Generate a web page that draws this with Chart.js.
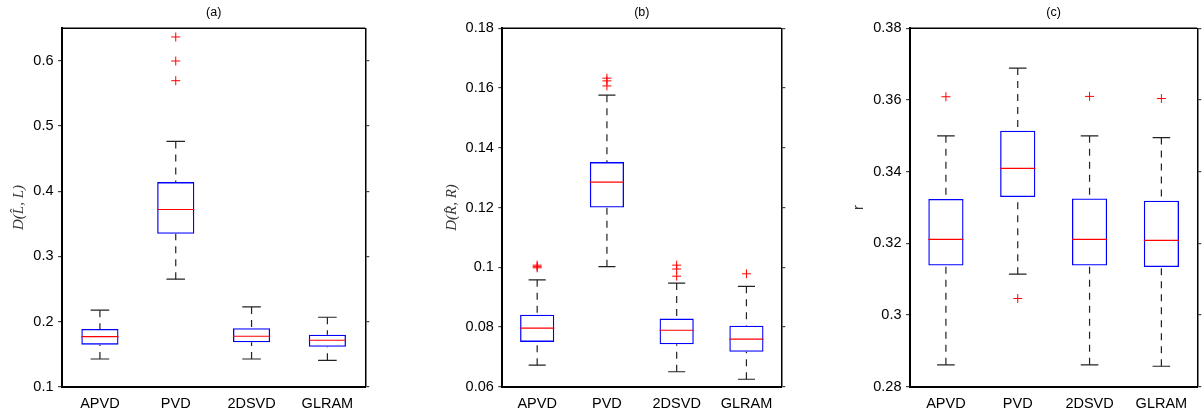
<!DOCTYPE html>
<html>
<head>
    <title>Box plots (a) (b) (c)</title>
    <style type="text/css">
        body { margin: 0; background: #fff; }
        .panel { position: absolute; top: 0; }
    </style>
    <script type="text/javascript" src="https://cdn.jsdelivr.net/npm/chart.js@4.4.1/dist/chart.umd.min.js"></script>
</head>
<body>
    <canvas id="chartA" class="panel" width="400" height="413" style="left:0px"></canvas>
    <canvas id="chartB" class="panel" width="400" height="413" style="left:400px"></canvas>
    <canvas id="chartC" class="panel" width="404" height="413" style="left:800px"></canvas>

    <script>
        var methods = ["APVD", "PVD", "2DSVD", "GLRAM"];

        // (a) D(L^, L)
        var aLow  = [0.1425, 0.2650, 0.1425, 0.1405];
        var aQ1   = [0.1645, 0.3346, 0.1682, 0.1614];
        var aMed  = [0.1768, 0.3719, 0.1774, 0.1713];
        var aQ3   = [0.1886, 0.4140, 0.1897, 0.1799];
        var aHigh = [0.2174, 0.4764, 0.2224, 0.2066];
        var aOut  = [[], [0.5696, 0.5998, 0.6367], [], []];

        // (b) D(R^, R)
        var bLow  = [0.0672, 0.1002, 0.0650, 0.0625];
        var bQ1   = [0.0750, 0.1200, 0.0742, 0.0717];
        var bMed  = [0.0796, 0.1285, 0.0789, 0.0759];
        var bQ3   = [0.0841, 0.1352, 0.0828, 0.0804];
        var bHigh = [0.0958, 0.1576, 0.0947, 0.0936];
        var bOut  = [[0.0998, 0.1002, 0.1007], [0.1607, 0.1624, 0.1633], [0.0970, 0.0994, 0.1007], [0.0978]];

        // (c) r
        var cLow  = [0.2861, 0.3114, 0.2861, 0.2857];
        var cQ1   = [0.3138, 0.3329, 0.3138, 0.3134];
        var cMed  = [0.3211, 0.3409, 0.3211, 0.3208];
        var cQ3   = [0.3324, 0.3514, 0.3325, 0.3319];
        var cHigh = [0.3500, 0.3689, 0.3500, 0.3495];
        var cOut  = [[0.3609], [0.3046], [0.3610], [0.3604]];

        var sans = "'Liberation Sans', Arial, Helvetica, sans-serif";

        // whiskers, caps and medians drawn through the chart scales
        var makeBoxPlugin = function (low, med, high) {
            return {
                id: "boxPlot",
                beforeDatasetsDraw: function (chart) {
                    var ctx = chart.ctx;
                    var y = chart.scales.y;
                    var bars = chart.getDatasetMeta(0).data;
                    ctx.save();
                    ctx.strokeStyle = "#222";
                    ctx.lineWidth = 1.2;
                    for (var i = 0; i < bars.length; i++) {
                        var cx = bars[i].x;
                        var cap = bars[i].width / 4;
                        var top = Math.min(bars[i].y, bars[i].base);
                        var bot = Math.max(bars[i].y, bars[i].base);
                        var yHi = y.getPixelForValue(high[i]);
                        var yLo = y.getPixelForValue(low[i]);
                        ctx.setLineDash([7, 6]);
                        ctx.beginPath();
                        ctx.moveTo(cx, yHi); ctx.lineTo(cx, top);
                        ctx.moveTo(cx, yLo); ctx.lineTo(cx, bot);
                        ctx.stroke();
                        ctx.setLineDash([]);
                        ctx.beginPath();
                        ctx.moveTo(cx - cap, yHi); ctx.lineTo(cx + cap, yHi);
                        ctx.moveTo(cx - cap, yLo); ctx.lineTo(cx + cap, yLo);
                        ctx.stroke();
                    }
                    ctx.restore();
                },
                afterDatasetsDraw: function (chart) {
                    var ctx = chart.ctx;
                    var y = chart.scales.y;
                    var bars = chart.getDatasetMeta(0).data;
                    var area = chart.chartArea;
                    ctx.save();
                    ctx.strokeStyle = "#ff0000";
                    ctx.lineWidth = 1.2;
                    for (var i = 0; i < bars.length; i++) {
                        var ym = y.getPixelForValue(med[i]);
                        ctx.beginPath();
                        ctx.moveTo(bars[i].x - bars[i].width / 2, ym);
                        ctx.lineTo(bars[i].x + bars[i].width / 2, ym);
                        ctx.stroke();
                    }
                    // top frame line
                    ctx.strokeStyle = "#000";
                    ctx.lineWidth = 1.5;
                    ctx.beginPath();
                    ctx.moveTo(area.left, area.top);
                    ctx.lineTo(area.right, area.top);
                    ctx.stroke();
                    ctx.restore();
                }
            };
        };

        var fmt = function (v) {
            return String(+v.toFixed(4));
        };

        var buildPanel = function (id, cfg) {
            var outliers = [];
            for (var i = 0; i < cfg.out.length; i++) {
                for (var j = 0; j < cfg.out[i].length; j++) {
                    outliers.push({ x: methods[i], y: cfg.out[i][j] });
                }
            }
            var yTicks = {
                min: cfg.min,
                max: cfg.max,
                ticks: {
                    stepSize: cfg.step,
                    includeBounds: false,
                    color: "#000",
                    padding: 4.5,
                    font: { family: sans, size: 14.5 },
                    callback: fmt
                }
            };
            return new Chart(document.getElementById(id), {
                type: "bar",
                data: {
                    labels: methods,
                    datasets: [
                        {
                            label: "box",
                            data: cfg.q1.map(function (v, k) { return [v, cfg.q3[k]]; }),
                            backgroundColor: "rgba(255,255,255,0)",
                            borderColor: "#0000ff",
                            borderWidth: 1.3,
                            borderSkipped: false,
                            barPercentage: 0.49,
                            categoryPercentage: 1.0,
                            order: 2
                        },
                        {
                            type: "line",
                            label: "outliers",
                            data: outliers,
                            showLine: false,
                            pointStyle: "cross",
                            pointRadius: 4.5,
                            pointBorderColor: "#ff0000",
                            pointBorderWidth: 1,
                            order: 1
                        }
                    ]
                },
                options: {
                    responsive: false,
                    animation: false,
                    events: [],
                    layout: { padding: { left: 0, right: cfg.padRight, top: 0, bottom: 0 } },
                    plugins: {
                        legend: { display: false },
                        tooltip: { enabled: false },
                        title: {
                            display: true,
                            fullSize: false,
                            text: cfg.title,
                            color: "#000",
                            font: { family: sans, size: 12.5, weight: "normal" },
                            padding: { top: 5, bottom: 8.3 }
                        }
                    },
                    scales: {
                        x: {
                            grid: { display: false, drawTicks: false },
                            border: { display: true, color: "#000", width: 2 },
                            ticks: {
                                color: "#000",
                                padding: 9,
                                font: { family: sans, size: 14.5 }
                            },
                            afterFit: function (s) { s.height = 26.3; }
                        },
                        y: Object.assign({
                            position: "left",
                            grid: { display: true, drawOnChartArea: false, drawTicks: true, tickLength: 4, color: "#444", lineWidth: 1.2 },
                            border: { display: true, color: "#000", width: 2 },
                            title: {
                                display: true,
                                text: cfg.yTitle,
                                color: "#333",
                                font: cfg.yTitleFont,
                                padding: { top: cfg.yTitlePad, bottom: 0 }
                            },
                            afterFit: function (s) { s.width = cfg.yWidth; }
                        }, yTicks),
                        y2: Object.assign({}, yTicks, {
                            position: "right",
                            ticks: { display: false, stepSize: cfg.step, includeBounds: false },
                            grid: { display: true, drawOnChartArea: false, drawTicks: true, tickLength: 4, color: "#444", lineWidth: 1.2 },
                            border: { display: true, color: "#000", width: 1.5 },
                            afterFit: function (s) { s.width = 4; }
                        })
                    }
                },
                plugins: [makeBoxPlugin(cfg.low, cfg.med, cfg.high)]
            });
        };

        buildPanel("chartA", {
            title: "(a)", min: 0.1, max: 0.65, step: 0.1,
            low: aLow, q1: aQ1, med: aMed, q3: aQ3, high: aHigh, out: aOut,
            yTitle: "D(L\u0302, L)", yTitleFont: { family: "'Liberation Serif', 'DejaVu Serif', serif", size: 15, style: "italic" },
            yTitlePad: 9.6, yWidth: 62, padRight: 30.7
        });

        buildPanel("chartB", {
            title: "(b)", min: 0.06, max: 0.18, step: 0.02,
            low: bLow, q1: bQ1, med: bMed, q3: bQ3, high: bHigh, out: bOut,
            yTitle: "D(R\u0302, R)", yTitleFont: { family: "'Liberation Serif', 'DejaVu Serif', serif", size: 15, style: "italic" },
            yTitlePad: 43.3, yWidth: 102.3, padRight: 14.7
        });

        buildPanel("chartC", {
            title: "(c)", min: 0.28, max: 0.38, step: 0.02,
            low: cLow, q1: cQ1, med: cMed, q3: cQ3, high: cHigh, out: cOut,
            yTitle: "r", yTitleFont: { family: sans, size: 15 },
            yTitlePad: 49.6, yWidth: 110, padRight: 2.7
        });
    </script>
</body>
</html>
